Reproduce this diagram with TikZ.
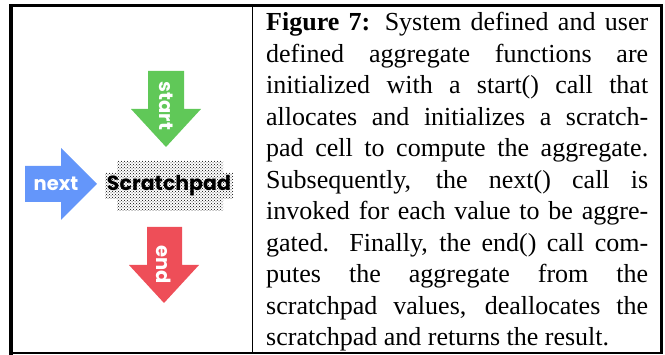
\documentclass[tikz,border=0pt]{standalone}
\usepackage{fontspec}
\setmainfont{Liberation Serif}
\newfontfamily\gothic{Poppins}
\usetikzlibrary{patterns}
\definecolor{startgreen}{RGB}{96,200,88}
\definecolor{endred}{RGB}{238,78,88}
\definecolor{nextblue}{RGB}{100,150,250}
\tikzset{
  arrowlabel/.style={text=white, font=\gothic\bfseries\fontsize{19.5}{19.5}\selectfont, inner sep=0pt},
  framebar/.style={line width=#1, draw=black, line cap=rect},
}
\begin{document}
\begin{tikzpicture}[x=1pt,y=-1pt]
\useasboundingbox (0,0) rectangle (665,355);
% frame
\draw[framebar=3.5pt] (10.75,5.75) -- (10.75,353);
\draw[framebar=3.5pt] (10.75,5.75) -- (661.5,5.75);
\draw[framebar=3pt] (661.5,5.75) -- (661.5,353);
\draw[framebar=1.5pt] (10.75,353.25) -- (661.5,353.25);
\draw[line width=1.5pt] (252.5,5.75) -- (252.5,353.25);
% scratchpad
\fill[pattern=crosshatch dots, pattern color=black]
  (117,161) -- (223,161) -- (223,173) -- (233,173) -- (233,199) -- (223,199)
  -- (223,211) -- (117,211) -- (117,199) -- (105,199) -- (105,173) -- (117,173) -- cycle;
\node[font=\gothic\bfseries\fontsize{20.5}{20.5}\selectfont, inner sep=0pt] (pad) at (169,186) {Scratchpad};
% start arrow
\fill[startgreen] (148,71) -- (184,71) -- (184,109) -- (201,109) -- (166,147) -- (131,109) -- (148,109) -- cycle;
\node[arrowlabel, rotate=-90] (start) at (166,106) {start};
% next arrow
\fill[nextblue] (25,166) -- (61,166) -- (61,148) -- (97,184) -- (61,220) -- (61,202) -- (25,202) -- cycle;
\node[arrowlabel] (next) at (56,184) {next};
% end arrow
\fill[endred] (147,227) -- (182,227) -- (182,265) -- (199,265) -- (164,303) -- (129,265) -- (147,265) -- cycle;
\node[arrowlabel, rotate=-90] (end) at (164,265) {end};
% caption
\node[anchor=north west, inner sep=0pt, text width=382pt, align=justify,
      font=\fontsize{26}{31.5}\selectfont] (caption) at (266,12) {%
\textbf{Figure 7:} System defined and user\linebreak
defined aggregate functions are\linebreak
initialized with a start() call that\linebreak
allocates and initializes a scratch-\linebreak
pad cell to compute the aggregate.\linebreak
Subsequently, the next() call is\linebreak
invoked for each value to be aggre-\linebreak
gated. Finally, the end() call com-\linebreak
putes the aggregate from the\linebreak
scratchpad values, deallocates the\linebreak
scratchpad and returns the result.};
\end{tikzpicture}
\end{document}
